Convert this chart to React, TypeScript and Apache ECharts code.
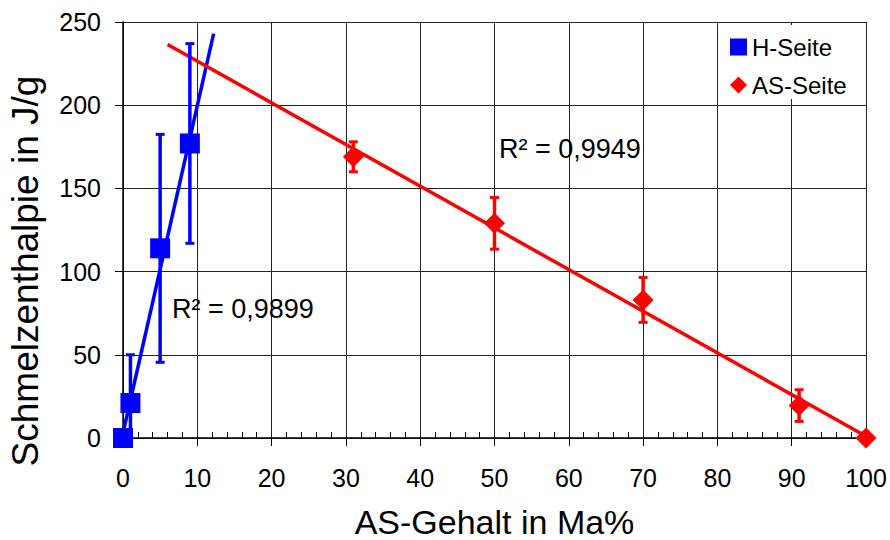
import React, { useEffect, useRef } from 'react';
import * as echarts from 'echarts';

// ---- data ----
const hSeiteX = [0, 1, 5, 9];
const hSeiteY = [0, 21, 114, 177];
const hSeiteErr = [0, 29, 68.5, 60];

const asSeiteX = [31, 50, 70, 91, 100];
const asSeiteY = [169, 129, 83, 19.5, 0];
const asSeiteErr = [9, 15.5, 13.5, 9.5, 0];

// trend line end points
const hTrendX = [0, 12.2];
const hTrendY = [3, 243];
const asTrendX = [6, 100];
const asTrendY = [236.5, 1];

const xMin = 0, xMax = 100, xStep = 10;
const yMin = 0, yMax = 250, yStep = 50;

const seriesNames = ['H-Seite', 'AS-Seite'];
const r2Texts = ['R² = 0,9949', 'R² = 0,9899'];
const xTitle = 'AS-Gehalt in Ma%';
const yTitle = 'Schmelzenthalpie in J/g';

const FONT = '"Liberation Sans", Arial, sans-serif';
const BLUE = '#0000ff';
const RED = '#ff0000';

const zip = (xs: number[], ys: number[]) => xs.map((x, i) => [x, ys[i]]);
const zip3 = (xs: number[], ys: number[], es: number[]) => xs.map((x, i) => [x, ys[i], es[i]]);

const errorRender = (color: string) => (params: any, api: any) => {
  const x = api.value(0);
  const y = api.value(1);
  const e = api.value(2);
  if (!e) return { type: 'group', children: [] };
  const top = api.coord([x, y + e]);
  const bot = api.coord([x, y - e]);
  const hw = 4.5;
  const style = { stroke: color, lineWidth: 3.5 };
  return {
    type: 'group',
    children: [
      { type: 'line', shape: { x1: top[0], y1: top[1], x2: bot[0], y2: bot[1] }, style },
      { type: 'line', shape: { x1: top[0] - hw, y1: top[1], x2: top[0] + hw, y2: top[1] }, style: { stroke: color, lineWidth: 3 } },
      { type: 'line', shape: { x1: bot[0] - hw, y1: bot[1], x2: bot[0] + hw, y2: bot[1] }, style: { stroke: color, lineWidth: 3 } },
    ],
  };
};

export default function App() {
  const ref = useRef<HTMLDivElement>(null);
  useEffect(() => {
    if (!ref.current) return;
    const chart = echarts.init(ref.current, undefined, { renderer: 'svg' });
    const option: any = {
      animation: false,
      backgroundColor: '#fff',
      textStyle: { fontFamily: FONT },
      grid: { left: 123, right: 24, top: 22, bottom: 102, containLabel: false, outerBoundsMode: 'none' },
      legend: {
        orient: 'vertical',
        left: 720,
        top: 25,
        padding: [8, 8, 0, 10],
        backgroundColor: '#fff',
        itemWidth: 17,
        itemHeight: 17,
        itemGap: 10,
        itemStyle: { borderWidth: 0 },
        textStyle: { fontFamily: FONT, fontSize: 24, color: '#000', lineHeight: 28 },
        data: [
          { name: seriesNames[0], icon: 'rect' },
          { name: seriesNames[1], icon: 'diamond' },
        ],
      },
      xAxis: [
        {
          type: 'value',
          min: xMin,
          max: xMax,
          interval: xStep,
          position: 'bottom',
          name: xTitle,
          nameLocation: 'middle',
          nameGap: 68,
          nameTextStyle: { fontFamily: FONT, fontSize: 34, lineHeight: 32, color: '#000' },
          axisLine: { show: true, onZero: false, lineStyle: { color: '#000', width: 1.5 } },
          axisTick: { show: true, length: 8, lineStyle: { color: '#000' } },
          axisLabel: { fontFamily: FONT, fontSize: 25, color: '#000', margin: 27 },
          splitLine: { show: true, lineStyle: { color: '#222', width: 1 } },
        },
        {
          type: 'value',
          min: xMin,
          max: xMax,
          interval: xStep,
          position: 'bottom',
          offset: 0,
          axisLine: { show: false },
          axisTick: { show: false, inside: true },
          axisLabel: { show: false },
          splitLine: { show: false },
          minorTick: { show: true, splitNumber: 5, length: 6, lineStyle: { color: '#000', width: 1 } },
        },
      ],
      yAxis: {
        type: 'value',
        min: yMin,
        max: yMax,
        interval: yStep,
        axisLine: { show: true, onZero: false, lineStyle: { color: '#000', width: 1.5 } },
        axisTick: { show: true, length: 8, lineStyle: { color: '#000' } },
        axisLabel: { fontFamily: FONT, fontSize: 25, color: '#000', margin: 22 },
        splitLine: { show: true, lineStyle: { color: '#222', width: 1 } },
      },
      graphic: [
        {
          type: 'text',
          x: 25,
          y: 271,
          rotation: Math.PI / 2,
          style: { text: yTitle, font: `37px ${FONT}`, fill: '#000', align: 'center', verticalAlign: 'middle' },
        },
        {
          type: 'text',
          x: 499,
          y: 149,
          z: 10,
          style: { text: r2Texts[0], font: `27px ${FONT}`, fill: '#000', align: 'left', verticalAlign: 'middle' },
        },
        {
          type: 'text',
          x: 172,
          y: 309,
          z: 10,
          style: { text: r2Texts[1], font: `27px ${FONT}`, fill: '#000', align: 'left', verticalAlign: 'middle' },
        },
      ],
      series: [
        {
          type: 'line',
          data: zip(hTrendX, hTrendY),
          symbol: 'none',
          lineStyle: { color: BLUE, width: 3.5 },
          silent: true,
          z: 3,
        },
        {
          type: 'line',
          data: zip(asTrendX, asTrendY),
          symbol: 'none',
          lineStyle: { color: RED, width: 3.5 },
          silent: true,
          z: 3,
        },
        {
          type: 'custom',
          data: zip3(hSeiteX, hSeiteY, hSeiteErr),
          encode: { x: 0, y: 1 },
          renderItem: errorRender(BLUE),
          clip: true,
          z: 4,
        },
        {
          type: 'custom',
          data: zip3(asSeiteX, asSeiteY, asSeiteErr),
          encode: { x: 0, y: 1 },
          renderItem: errorRender(RED),
          clip: true,
          z: 4,
        },
        {
          name: seriesNames[0],
          type: 'scatter',
          data: zip(hSeiteX, hSeiteY),
          symbol: 'rect',
          symbolSize: 20,
          itemStyle: { color: BLUE, opacity: 1 },
          z: 5,
        },
        {
          name: seriesNames[1],
          type: 'scatter',
          data: zip(asSeiteX, asSeiteY),
          symbol: 'diamond',
          symbolSize: 21,
          itemStyle: { color: RED, opacity: 1 },
          z: 5,
        },
      ],
    };
    chart.setOption(option);
    return () => chart.dispose();
  }, []);
  return <div ref={ref} style={{ position: 'fixed', left: 0, top: 0, width: 890, height: 540, background: '#fff' }} />;
}
